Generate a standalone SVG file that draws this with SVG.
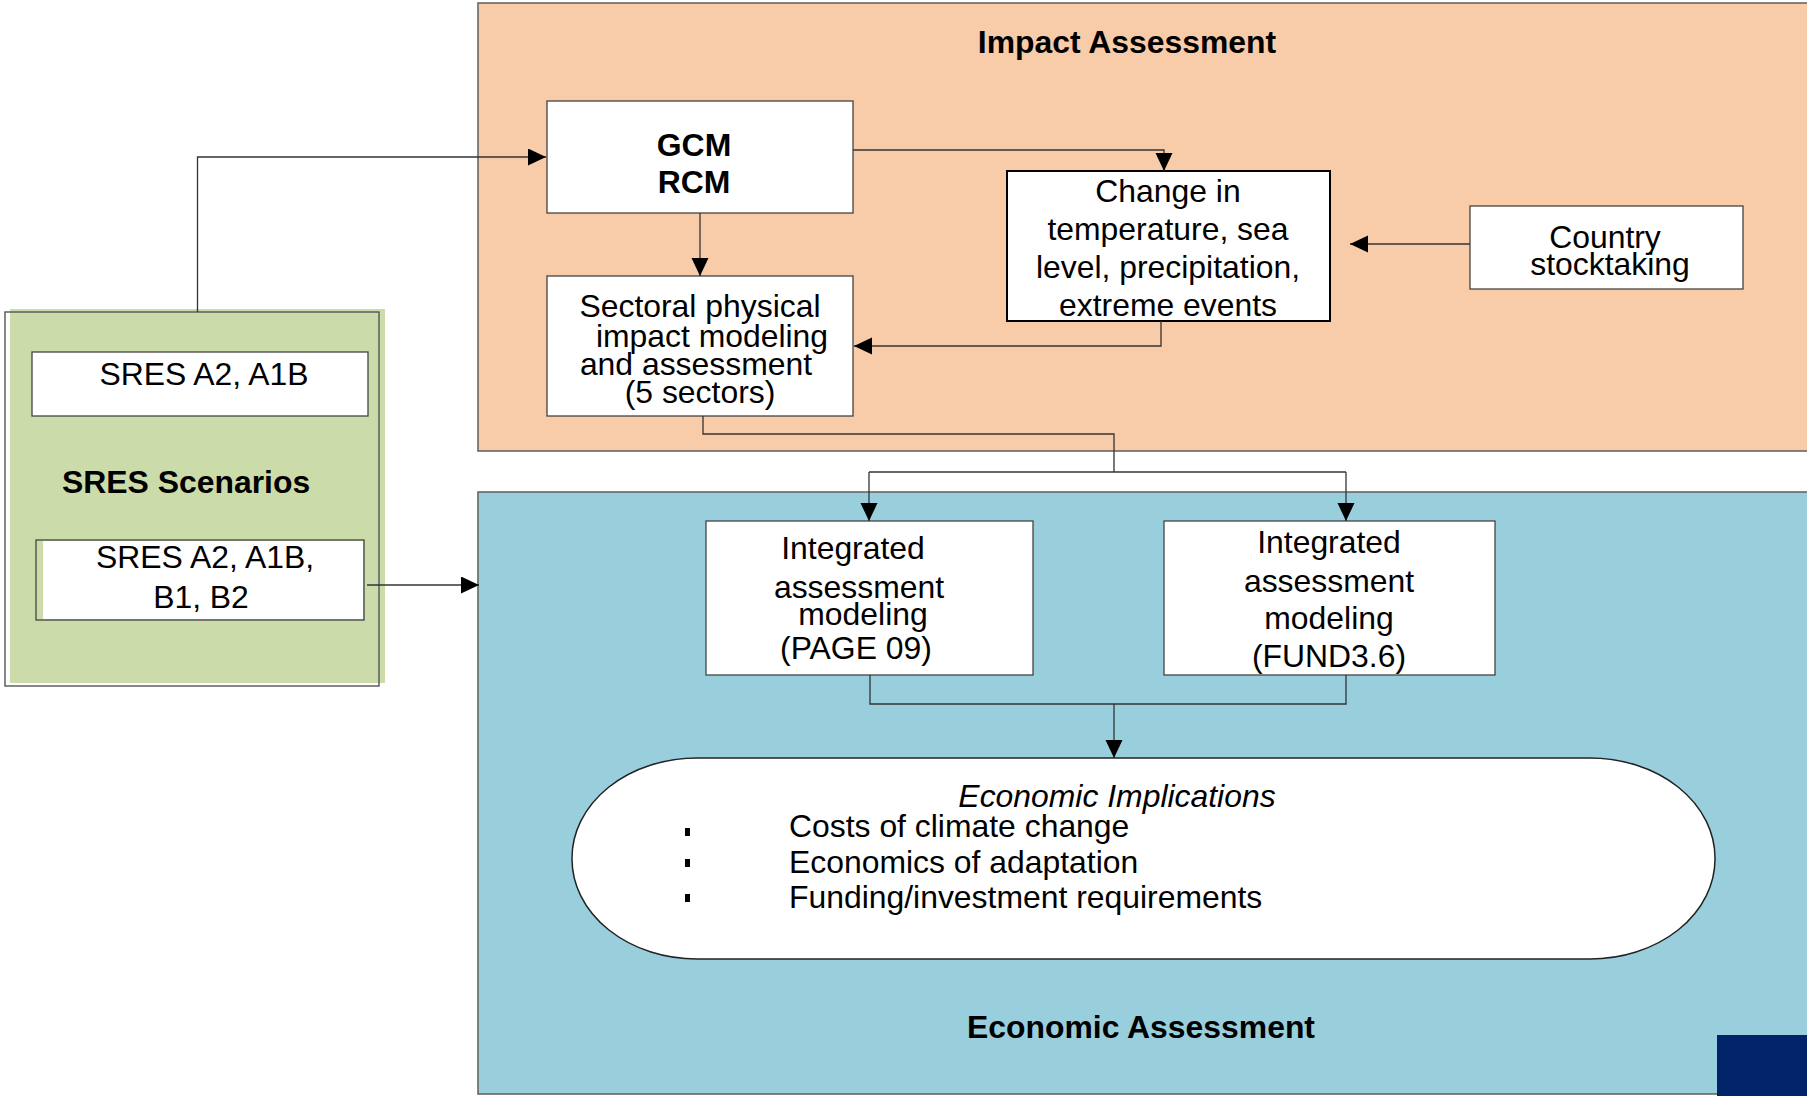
<svg xmlns="http://www.w3.org/2000/svg" width="1807" height="1096" viewBox="0 0 1807 1096">
<style>
text{font-family:"Liberation Sans",Arial,sans-serif;font-size:31.9px;fill:#000}
.b{font-weight:bold}
.m{text-anchor:middle}
.i{font-style:italic}
.box{fill:#fff;stroke:#444;stroke-width:1.3}
.cont{stroke:#666;stroke-width:1.6}
.c{fill:none;stroke:#333;stroke-width:1.3}
</style>
<defs>
<marker id="ah" markerUnits="userSpaceOnUse" markerWidth="19" markerHeight="18" refX="18" refY="8.5" orient="auto">
<path d="M0,0 L18,8.5 L0,17 z" fill="#000"/>
</marker>
</defs>
<rect width="1807" height="1096" fill="#fff"/>

<g id="impact-assessment">
<rect class="cont" x="478" y="3" width="1340" height="448" fill="#F9CCA9"/>
<text class="b m" x="1127" y="53">Impact Assessment</text>
</g>

<g id="economic-assessment">
<rect class="cont" x="478" y="492" width="1340" height="602" fill="#99CFDD"/>
<text class="b m" x="1141" y="1038">Economic Assessment</text>
</g>

<g id="sres-scenarios">
<rect x="10" y="309" width="375" height="374" fill="#CCDBAA"/>
<rect x="5" y="312" width="374" height="374" fill="none" stroke="#555" stroke-width="1.4"/>
<text class="b" x="62" y="493">SRES Scenarios</text>
</g>

<g id="sres-a2-a1b">
<rect class="box" x="32" y="352" width="336" height="64"/>
<text class="m" x="204" y="385">SRES A2, A1B</text>
</g>

<g id="sres-a2-a1b-b1-b2">
<rect x="36" y="540" width="328" height="80" fill="#CCDBAA" stroke="#444" stroke-width="1.3"/>
<rect x="43" y="541" width="320" height="78" fill="#fff"/>
<text class="m" x="205" y="568">SRES A2, A1B,</text>
<text class="m" x="201" y="608">B1, B2</text>
</g>

<g id="gcm-rcm">
<rect class="box" x="547" y="101" width="306" height="112"/>
<text class="b m" x="694" y="156">GCM</text>
<text class="b m" x="694" y="193">RCM</text>
</g>

<g id="sectoral">
<rect class="box" x="547" y="276" width="306" height="140"/>
<text class="m" x="700" y="317">Sectoral physical</text>
<text class="m" x="712" y="347">impact modeling</text>
<text class="m" x="696" y="375">and assessment</text>
<text class="m" x="700" y="403">(5 sectors)</text>
</g>

<g id="change">
<rect x="1007" y="171" width="323" height="150" fill="#fff" stroke="#000" stroke-width="2"/>
<text class="m" x="1168" y="202">Change in</text>
<text class="m" x="1168" y="240">temperature, sea</text>
<text class="m" x="1168" y="278">level, precipitation,</text>
<text class="m" x="1168" y="316">extreme events</text>
</g>

<g id="country">
<rect class="box" x="1470" y="206" width="273" height="83"/>
<text class="m" x="1605" y="248">Country</text>
<text class="m" x="1610" y="275">stocktaking</text>
</g>

<g id="iam-page">
<rect class="box" x="706" y="521" width="327" height="154"/>
<text class="m" x="853" y="559">Integrated</text>
<text class="m" x="859" y="598">assessment</text>
<text class="m" x="863" y="625">modeling</text>
<text class="m" x="856" y="659">(PAGE 09)</text>
</g>

<g id="iam-fund">
<rect class="box" x="1164" y="521" width="331" height="154"/>
<text class="m" x="1329" y="553">Integrated</text>
<text class="m" x="1329" y="592">assessment</text>
<text class="m" x="1329" y="629">modeling</text>
<text class="m" x="1329" y="667">(FUND3.6)</text>
</g>

<g id="economic-implications">
<rect x="572" y="758" width="1143" height="201" rx="125" ry="100" fill="#fff" stroke="#222" stroke-width="1.5"/>
<text class="i m" x="1117" y="807">Economic Implications</text>
<rect x="685" y="828" width="5" height="8" fill="#000"/>
<rect x="685" y="859" width="5" height="8" fill="#000"/>
<rect x="685" y="894" width="5" height="8" fill="#000"/>
<text x="789" y="837">Costs of climate change</text>
<text x="789" y="873">Economics of adaptation</text>
<text x="789" y="908">Funding/investment requirements</text>
</g>

<g id="corner-mark">
<rect x="1717" y="1035" width="90" height="61" fill="#00236A"/>
</g>

<g id="connectors">
<path class="c" d="M197.5,312 V157 H546" marker-end="url(#ah)"/>
<path class="c" d="M367,585 H479" marker-end="url(#ah)"/>
<path class="c" d="M700,213 V276" marker-end="url(#ah)"/>
<path class="c" d="M853,150 H1164 V171" marker-end="url(#ah)"/>
<path class="c" d="M1470,244 H1350" marker-end="url(#ah)"/>
<path class="c" d="M1161,321 V346 H854" marker-end="url(#ah)"/>
<path class="c" d="M703,416 V434 H1114 V472"/>
<path class="c" d="M869,472 H1346"/>
<path class="c" d="M869,472 V521" marker-end="url(#ah)"/>
<path class="c" d="M1346,472 V521" marker-end="url(#ah)"/>
<path class="c" d="M870,675 V704 H1346 V675"/>
<path class="c" d="M1114,704 V758" marker-end="url(#ah)"/>
</g>
</svg>
